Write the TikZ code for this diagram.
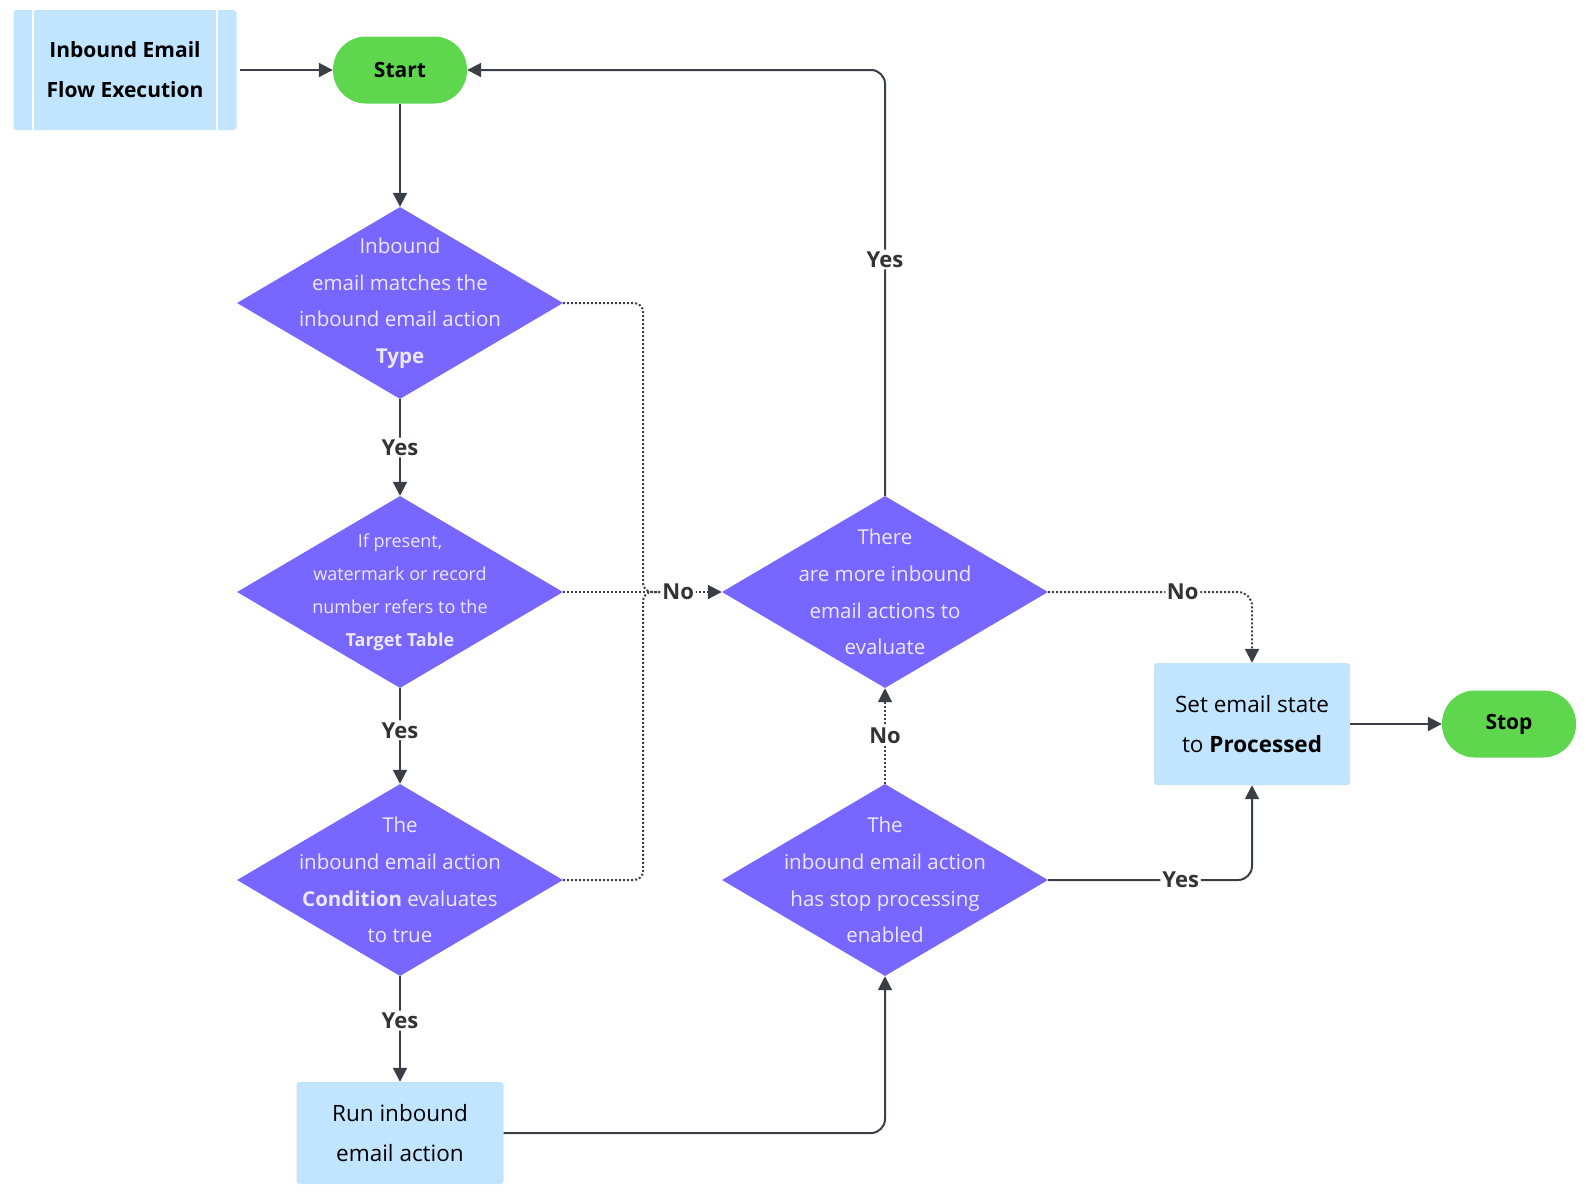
\documentclass[tikz,border=0pt]{standalone}
\usepackage{fontspec}
\setmainfont{Open Sans}
\usetikzlibrary{shapes.geometric,arrows.meta}
\definecolor{dpurple}{HTML}{7766FF}
\definecolor{dtextcol}{HTML}{ECE8FF}
\definecolor{lblue}{HTML}{C2E5FF}
\definecolor{sgreen}{HTML}{5ED64E}
\definecolor{lcol}{HTML}{3A3F47}
\definecolor{labcol}{HTML}{333333}
\tikzset{
    decision/.style = {diamond, fill = dpurple, minimum width = 326pt, minimum height = 192pt, inner sep = 0pt},
    dtext/.style = {text = dtextcol, align = center, font = \fontsize{20.5}{36.6}\selectfont},
    dsmall/.style = {dtext, font = \fontsize{18}{33}\selectfont},
    terminal/.style = {rectangle, rounded corners = 33pt, fill = sgreen, minimum width = 134pt, minimum height = 67pt, font = \fontsize{21}{25}\selectfont\bfseries},
    process/.style = {rectangle, rounded corners = 3pt, fill = lblue, align = center, font = \fontsize{22.5}{40}\selectfont},
    flow/.style = {draw = lcol, line width = 2pt, rounded corners = 14pt, -{Triangle[length = 14pt, width = 14pt]}},
    noflow/.style = {flow, dotted},
    lab/.style = {fill = white, text = labcol, inner sep = 2pt, font = \fontsize{22}{26}\selectfont\bfseries}
}
\begin{document}
\begin{tikzpicture}[x = 1pt, y = -1pt]
    \useasboundingbox (0, 0) rectangle (1586, 1200);
    % Entry and terminals
    \node [process, minimum width = 223pt, minimum height = 120pt, font = \fontsize{21}{40}\selectfont\bfseries] (inbox) at (125, 70) {Inbound Email\\Flow Execution};
    \draw [white, line width = 2pt]
        ([xshift = 20pt]inbox.north west) -- ([xshift = 20pt]inbox.south west)
        ([xshift = -20pt]inbox.north east) -- ([xshift = -20pt]inbox.south east);
    \node [terminal] (start) at (400, 70) {Start};
    \node [terminal] (stop) at (1509, 724) {Stop};
    % Decisions
    \node [decision, label = {[dtext]center:{Inbound\\email matches the\\inbound email action\\\textbf{Type}}}] (d1) at (400, 303) {};
    \node [decision, label = {[dsmall]center:{If present,\\watermark or record\\number refers to the\\\textbf{Target Table}}}] (d2) at (400, 592) {};
    \node [decision, label = {[dtext]center:{The\\inbound email action\\\textbf{Condition} evaluates\\to true}}] (d3) at (400, 880) {};
    \node [decision, label = {[dtext]center:{The\\inbound email action\\has stop processing\\enabled}}] (d4) at (885, 880) {};
    \node [decision, label = {[dtext]center:{There\\are more inbound\\email actions to\\evaluate}}] (d5) at (885, 592) {};
    % Processes
    \node [process, minimum width = 207pt, minimum height = 102pt] (run) at (400, 1133) {Run inbound\\email action};
    \node [process, minimum width = 196pt, minimum height = 122pt] (set) at (1252, 724) {Set email state\\to \textbf{Processed}};
    \coordinate (nobus) at (643, 592);
    \coordinate (nojoin) at (662, 592);
    % Main line
    \draw [flow, shorten < = 3pt] (inbox.east) -- (start.west);
    \draw [flow] (start.south) -- (d1.north);
    \draw [flow] (d1.south) -- node [lab] {Yes} (d2.north);
    \draw [flow] (d2.south) -- node [lab, pos = 0.44] {Yes} (d3.north);
    \draw [flow] (d3.south) -- node [lab, pos = 0.42] {Yes} (run.north);
    \draw [flow] (run.east) -| (d4.south);
    \draw [noflow] (d4.north) -- node [lab] {No} (d5.north |- d5.south);
    \draw [flow] (d5.north) -- node [lab, pos = 0.555] {Yes} (d5.north |- start.east) -- (start.east);
    % No branches
    \draw [draw = lcol, line width = 2pt, dotted, rounded corners = 9pt] (d1.east) -| (nobus) -- (nojoin);
    \draw [draw = lcol, line width = 2pt, dotted, rounded corners = 9pt] (d3.east) -| (nobus) -- (nojoin);
    \draw [noflow] (d2.east) -- node [lab, pos = 0.725] {No} (d5.west);
    \draw [noflow] (d5.east) -- node [lab, pos = 0.66] {No} (d5.east -| set.north) -- (set.north);
    \draw [flow] (d4.east) -- node [lab, pos = 0.65] {Yes} (d4.east -| set.south) -- (set.south);
    \draw [flow] (set.east) -- (stop.west);
\end{tikzpicture}
\end{document}
